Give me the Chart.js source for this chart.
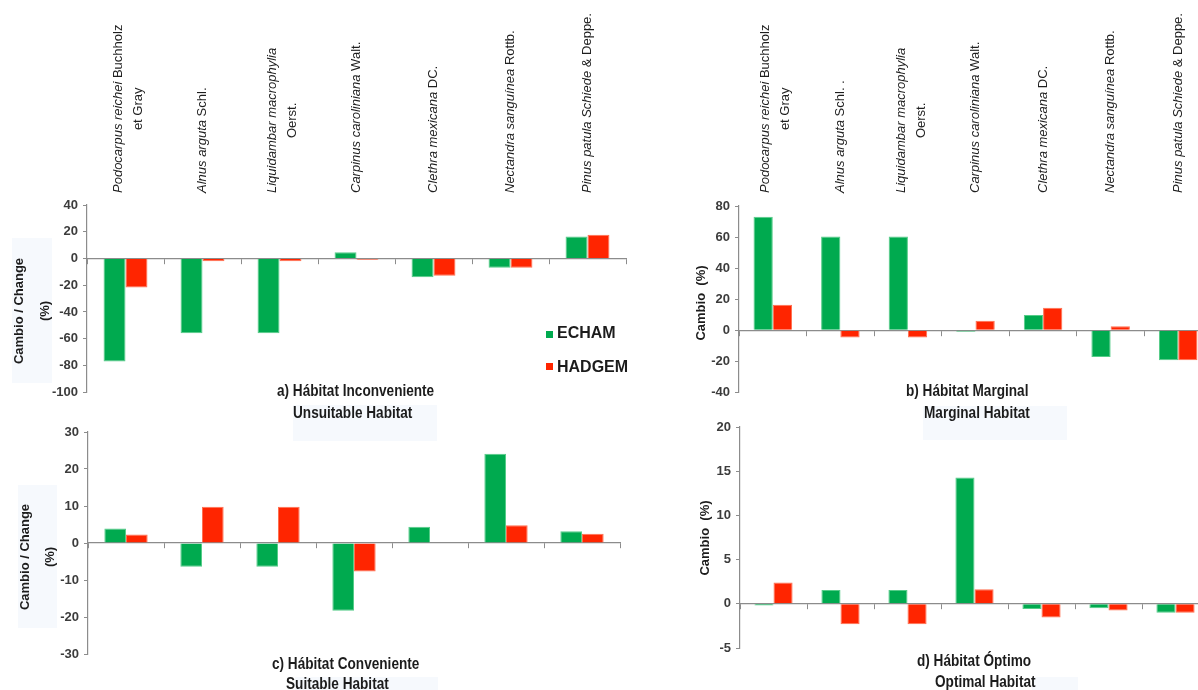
<!DOCTYPE html>
<html>
<head>
<meta charset="utf-8">
<script src="https://cdn.jsdelivr.net/npm/chart.js@4.4.1/dist/chart.umd.min.js"></script>
<style>
  html, body { margin: 0; padding: 0; background: #fff; }
  body { position: relative; width: 1198px; height: 690px; overflow: hidden; font-family: "Liberation Sans", Arial, sans-serif; }
  canvas { position: absolute; }
  .box { position: absolute; background: #f6f9fd; }
  .sub { position: absolute; white-space: nowrap; font: bold 16px/16px "Liberation Sans", Arial, sans-serif; color: #1c1c1c; transform-origin: 0 0; transform: scaleX(0.85); }
  .yt { position: absolute; white-space: pre; text-align: center; font: bold 13px "Liberation Sans", Arial, sans-serif; color: #1c1c1c; transform: translate(-50%, -50%) rotate(-90deg); }
  .key { position: absolute; width: 7px; height: 7px; }
  .keytxt { position: absolute; white-space: nowrap; font: bold 16px/16px "Liberation Sans", Arial, sans-serif; color: #1c1c1c; }
</style>
</head>
<body>
<!-- faint panels behind the axis titles and the English subtitles -->
<div class="box" style="left:12px;top:238px;width:40px;height:145px"></div>
<div class="box" style="left:18px;top:485px;width:39px;height:143px"></div>
<div class="box" style="left:293px;top:405px;width:144px;height:36px"></div>
<div class="box" style="left:923px;top:406px;width:144px;height:34px"></div>
<div class="box" style="left:295px;top:677px;width:143px;height:13px"></div>
<div class="box" style="left:1032px;top:677px;width:46px;height:13px"></div>

<canvas id="chartA" width="640" height="405" style="left:0;top:0"></canvas>
<canvas id="chartB" width="580" height="405" style="left:640px;top:0"></canvas>
<canvas id="chartC" width="640" height="285" style="left:0;top:405px"></canvas>
<canvas id="chartD" width="580" height="285" style="left:640px;top:405px"></canvas>

<div class="yt" style="left:32px;top:311px;line-height:26px">Cambio / Change
(%)</div>
<div class="yt" style="left:37px;top:557px;line-height:25px">Cambio / Change
(%)</div>
<div class="yt" style="left:700px;top:303px">Cambio  (%)</div>
<div class="yt" style="left:704px;top:538px">Cambio  (%)</div>

<div class="sub" style="left:277px;top:383px">a) Hábitat Inconveniente</div>
<div class="sub" style="left:293px;top:405px">Unsuitable Habitat</div>
<div class="sub" style="left:906px;top:383px">b) Hábitat Marginal</div>
<div class="sub" style="left:924px;top:405px">Marginal Habitat</div>
<div class="sub" style="left:272px;top:656px">c) Hábitat Conveniente</div>
<div class="sub" style="left:286px;top:676px">Suitable Habitat</div>
<div class="sub" style="left:917px;top:653px">d) Hábitat Óptimo</div>
<div class="sub" style="left:935px;top:674px">Optimal Habitat</div>

<div id="legend"></div>

<script>
// Species (italic part of the name), authorities and wrapped second lines
const speciesItalic = ['Podocarpus reichei', 'Alnus arguta', 'Liquidambar macrophylia', 'Carpinus caroliniana', 'Clethra mexicana', 'Nectandra sanguínea', 'Pinus patula Schiede'];
const authorsLeft  = [' Buchholz', ' Schl.', '', ' Walt.', ' DC.', ' Rottb.', ' & Deppe.'];
const authorsRight = [' Buchholz', ' Schl. .', '', ' Walt.', ' DC.', ' Rottb.', ' & Deppe.'];
const secondLine   = ['et Gray', '', 'Oerst.', '', '', '', ''];

const seriesNames = ['ECHAM', 'HADGEM'];

// Change in habitat area (%) per species
const unsuitableEcham  = [-77, -56, -56, 4.7, -14, -7, 16.5];
const unsuitableHadgem = [-21.7, -2, -2, -1, -13, -7, 17.8];
const marginalEcham    = [73, 60.4, 60.4, -1, 9.7, -17.3, -19.4];
const marginalHadgem   = [16.3, -4.8, -4.8, 6.1, 14.4, 2.5, -19.4];
const suitableEcham    = [3.9, -6.4, -6.4, -18.3, 4.4, 24.1, 3.2];
const suitableHadgem   = [2.3, 9.8, 9.8, -7.7, 0, 4.8, 2.5];
const optimalEcham     = [-0.2, 1.55, 1.55, 14.3, -0.6, -0.5, -1.0];
const optimalHadgem    = [2.4, -2.3, -2.3, 1.65, -1.55, -0.75, -1.0];

// y-axis ranges: [min, max, step]
const unsuitableRange = [-100, 40, 20];
const marginalRange   = [-40, 80, 20];
const suitableRange   = [-30, 30, 10];
const optimalRange    = [-5, 20, 5];

const GREEN = '#00AA4F', GREEN_EDGE = '#55cc88';
const RED = '#FF2500', RED_EDGE = '#ff7050';
const AXIS = '#8c8c8c';
const FONT = '"Liberation Sans", Arial, sans-serif';

// Rotated species names above each category, mixing italic and upright text
const speciesLabels = {
  id: 'speciesLabels',
  afterDraw(chart, args, opts) {
    if (!opts.authors) return;
    const ctx = chart.ctx;
    const xs = chart.scales.x;
    ctx.save();
    ctx.fillStyle = '#1e1e1e';
    ctx.textBaseline = 'middle';
    ctx.textAlign = 'left';
    const setFont = (style) => { ctx.font = style + ' 13px ' + FONT; };
    speciesItalic.forEach((name, i) => {
      const lines = [[[name, 'italic'], [opts.authors[i], 'normal']]];
      if (secondLine[i]) lines.push([[secondLine[i], 'normal']]);
      const widths = lines.map(line => line.reduce((w, [t, s]) => { setFont(s); return w + ctx.measureText(t).width; }, 0));
      const maxW = Math.max(...widths);
      ctx.save();
      ctx.translate(xs.getPixelForValue(i) + (lines.length > 1 ? 3 : 0), opts.base);
      ctx.rotate(-Math.PI / 2);
      lines.forEach((line, j) => {
        let px = (maxW - widths[j]) / 2;
        const py = (j - (lines.length - 1) / 2) * opts.lineHeight;
        line.forEach(([t, s]) => {
          setFont(s);
          ctx.fillText(t, px, py);
          px += ctx.measureText(t).width;
        });
      });
      ctx.restore();
    });
    ctx.restore();
  }
};
Chart.register(speciesLabels);

function makeChart(id, echam, hadgem, range, padding, yWidth, labelOpts) {
  const [yMin, yMax, step] = range;
  return new Chart(document.getElementById(id), {
    type: 'bar',
    data: {
      labels: speciesItalic,
      datasets: [
        { label: seriesNames[0], data: echam, backgroundColor: GREEN, borderColor: GREEN_EDGE, borderWidth: 1,
          categoryPercentage: 0.57, barPercentage: 1 },
        { label: seriesNames[1], data: hadgem, backgroundColor: RED, borderColor: RED_EDGE, borderWidth: 1,
          categoryPercentage: 0.57, barPercentage: 1 }
      ]
    },
    options: {
      responsive: false,
      animation: false,
      layout: { padding },
      plugins: {
        legend: { display: false },
        tooltip: { enabled: false },
        speciesLabels: labelOpts || {}
      },
      scales: {
        x: {
          position: { y: 0 },
          grid: { offset: true, drawOnChartArea: false, drawTicks: true, tickLength: 5, color: AXIS, lineWidth: 1 },
          border: { display: true, color: AXIS, width: 1.2 },
          ticks: { display: false }
        },
        y: {
          min: yMin, max: yMax,
          afterFit: (s) => { s.width = yWidth; },
          ticks: { stepSize: step, padding: 5, color: '#3c3c3c', font: { family: FONT, size: 13, weight: 'bold' } },
          grid: { drawOnChartArea: false, drawTicks: true, tickLength: 4, color: AXIS },
          border: { display: true, color: AXIS, width: 1.2 }
        }
      }
    }
  });
}

makeChart('chartA', unsuitableEcham, unsuitableHadgem, unsuitableRange,
  { top: 205, bottom: 10, left: 0, right: 14 }, 87,
  { authors: authorsLeft, base: 193, lineHeight: 20 });
makeChart('chartB', marginalEcham, marginalHadgem, marginalRange,
  { top: 206, bottom: 10, left: 0, right: 8 }, 99,
  { authors: authorsRight, base: 193, lineHeight: 20 });
makeChart('chartC', suitableEcham, suitableHadgem, suitableRange,
  { top: 27, bottom: 36, left: 0, right: 20 }, 88);
makeChart('chartD', optimalEcham, optimalHadgem, optimalRange,
  { top: 22, bottom: 42, left: 0, right: 11 }, 100);

// Legend for the two climate models
const legend = document.getElementById('legend');
[[GREEN, 331, 325], [RED, 363, 359]].forEach(([color, keyTop, textTop], i) => {
  const key = document.createElement('div');
  key.className = 'key';
  key.style.cssText = `left:546px;top:${keyTop}px;background:${color}`;
  legend.appendChild(key);
  const txt = document.createElement('div');
  txt.className = 'keytxt';
  txt.style.cssText = `left:557px;top:${textTop}px`;
  txt.textContent = seriesNames[i];
  legend.appendChild(txt);
});
</script>
</body>
</html>
